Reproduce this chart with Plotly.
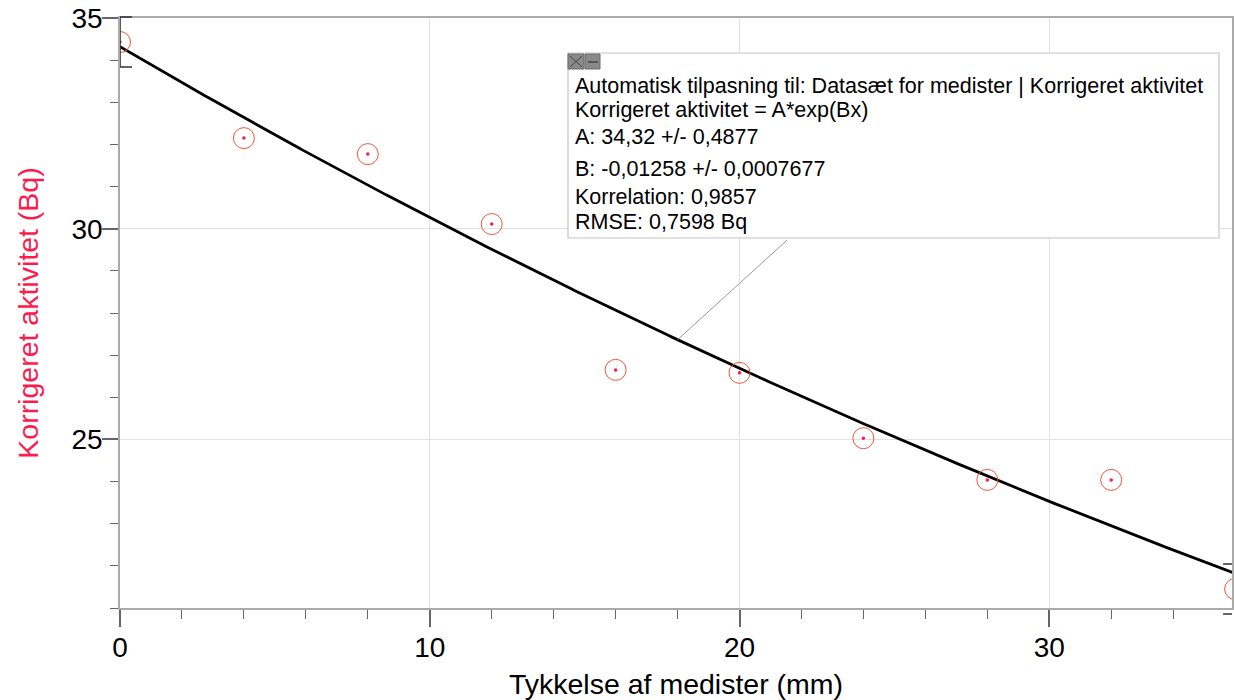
import numpy as np
import plotly.graph_objects as go

# ---- data ----
thickness_mm = [0, 4, 8, 12, 16, 20, 24, 28, 32, 36]
activity_bq = [34.43, 32.15, 31.77, 30.11, 26.65, 26.58, 25.03, 24.04, 24.04, 21.45]
fit_A = 34.32
fit_B = -0.01258
fit_text = [
    "Automatisk tilpasning til: Datasæt for medister | Korrigeret aktivitet",
    "Korrigeret aktivitet = A*exp(Bx)",
    "A: 34,32 +/- 0,4877",
    "B: -0,01258 +/- 0,0007677",
    "Korrelation: 0,9857",
    "RMSE: 0,7598 Bq",
]
x_tick_vals = [0, 10, 20, 30]
y_tick_vals = [25, 30, 35]
x_range = [0, 35.9]
y_range = [21, 35]

# ---- layout geometry ----
W, H = 1234, 700
ML, MR, MT, MB = 120, 2, 18, 92
PW, PH = W - ML - MR, H - MT - MB


def px(x):
    return (x - ML) / PW


def py(y):
    return 1 - (y - MT) / PH


def ydata_to_paper(v):
    return (v - y_range[0]) / (y_range[1] - y_range[0])


FONT = "Liberation Sans, Arial, sans-serif"
RED = "#ff1a4d"

fig = go.Figure()

xfit = np.linspace(min(thickness_mm), max(thickness_mm), 300)
yfit = fit_A * np.exp(fit_B * xfit)
fig.add_trace(go.Scatter(x=xfit, y=yfit, mode="lines",
                         line=dict(color="black", width=2.8), hoverinfo="skip"))

fig.add_trace(go.Scatter(x=thickness_mm, y=activity_bq, mode="markers",
                         marker=dict(symbol="circle-open", size=21,
                                     line=dict(color="#ff9fb4", width=1.0)),
                         hoverinfo="skip"))
fig.add_trace(go.Scatter(x=thickness_mm, y=activity_bq, mode="markers",
                         marker=dict(symbol="circle", size=3.5, color=RED),
                         hoverinfo="x+y"))

shapes = []
# fit-range brackets
x_first, x_last = thickness_mm[0], thickness_mm[-1]
shapes.append(dict(type="path", xref="x", yref="paper", xsizemode="pixel", ysizemode="pixel",
                   xanchor=x_first, yanchor=ydata_to_paper(activity_bq[0]),
                   path="M 12,25 L 0,25 L 0,-25 L 12,-25",
                   line=dict(color="#333", width=1.6)))
shapes.append(dict(type="path", xref="x", yref="paper", xsizemode="pixel", ysizemode="pixel",
                   xanchor=x_last, yanchor=ydata_to_paper(activity_bq[-1]),
                   path="M -12,25 L 0,25 L 0,-25 L -12,-25",
                   line=dict(color="#333", width=1.6)))

# annotation box
bx0, bx1, by0, by1 = 568, 1219, 53, 238
shapes.append(dict(type="rect", xref="paper", yref="paper",
                   x0=px(bx0), x1=px(bx1), y0=py(by1), y1=py(by0),
                   fillcolor="white", line=dict(color="#c4c4c4", width=1.2), layer="above"))
# small buttons
for (a, b) in [(568, 584), (585, 600)]:
    shapes.append(dict(type="rect", xref="paper", yref="paper",
                       x0=px(a), x1=px(b), y0=py(69), y1=py(54),
                       fillcolor="#8a8a8a", line=dict(color="#6a6a6a", width=1), layer="above"))
shapes.append(dict(type="line", xref="paper", yref="paper", x0=px(570), x1=px(582),
                   y0=py(56), y1=py(67), line=dict(color="#444", width=1), layer="above"))
shapes.append(dict(type="line", xref="paper", yref="paper", x0=px(570), x1=px(582),
                   y0=py(67), y1=py(56), line=dict(color="#444", width=1), layer="above"))
shapes.append(dict(type="line", xref="paper", yref="paper", x0=px(588), x1=px(598),
                   y0=py(62), y1=py(62), line=dict(color="#444", width=1.5), layer="above"))

annotations = []
line_centers = [86, 110, 137, 169, 197, 222]
for txt, yc in zip(fit_text, line_centers):
    annotations.append(dict(text=txt, xref="paper", yref="paper", x=px(573), y=py(yc),
                            xanchor="left", yanchor="middle", showarrow=False,
                            font=dict(family=FONT, size=21.5, color="black")))

# leader line from curve to box
x_lead = 18
annotations.append(dict(x=x_lead, y=fit_A * np.exp(fit_B * x_lead), xref="x", yref="y",
                        text="", showarrow=True, arrowhead=0, arrowwidth=1,
                        arrowcolor="#999", ax=111, ay=-101, standoff=0, startstandoff=0))

fig.update_layout(
    width=W, height=H,
    margin=dict(l=ML, r=MR, t=MT, b=MB, autoexpand=False),
    paper_bgcolor="white", plot_bgcolor="white",
    showlegend=False,
    shapes=shapes, annotations=annotations,
    font=dict(family=FONT, color="black"),
)
fig.update_xaxes(
    range=x_range, tickvals=x_tick_vals, ticks="outside", ticklen=17, tickwidth=1.5,
    tickcolor="#666", tickfont=dict(size=28, family=FONT, color="black"),
    showgrid=True, gridcolor="#e2e2e2", gridwidth=1, zeroline=False, automargin=False,
    showline=True, linecolor="#aaaaaa", linewidth=1.6, mirror=True, ticklabelstandoff=-3,
    minor=dict(dtick=2, tick0=0, ticks="outside", ticklen=9, tickwidth=1.3, tickcolor="#666", showgrid=False),
    title=dict(text="Tykkelse af medister (mm)", font=dict(size=28.5, family=FONT, color="black"), standoff=15),
)
fig.update_yaxes(
    range=y_range, tickvals=y_tick_vals, ticks="outside", ticklen=16, tickwidth=1.5,
    tickcolor="#666", tickfont=dict(size=28, family=FONT, color="black"),
    showgrid=True, gridcolor="#e2e2e2", gridwidth=1, zeroline=False, automargin=False,
    showline=True, linecolor="#aaaaaa", linewidth=1.6, mirror=True, ticklabelstandoff=-6,
    minor=dict(dtick=1, tick0=21, ticks="outside", ticklen=8, tickwidth=1.3, tickcolor="#666", showgrid=False),
    title=dict(text="Korrigeret aktivitet (Bq)", font=dict(size=28.5, family=FONT, color=RED), standoff=24),
)

fig.write_html("out.html", config={"displayModeBar": False},
               post_script="document.body.style.margin='0';document.body.style.overflow='hidden';")
